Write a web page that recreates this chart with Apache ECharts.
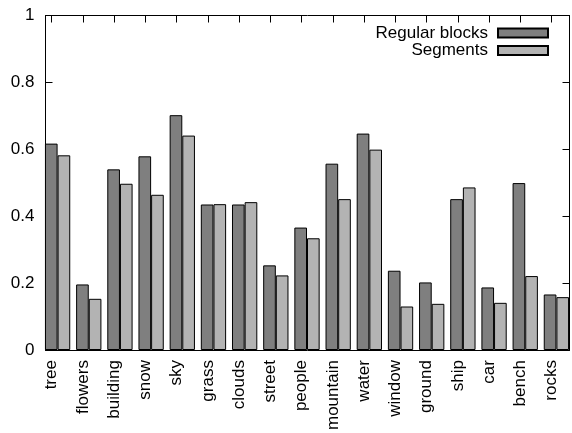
<!DOCTYPE html>
<html><head><meta charset="utf-8">
<script src="https://cdn.jsdelivr.net/npm/echarts@6/dist/echarts.min.js"></script>
<style>html,body{margin:0;padding:0;background:#fff}#c{width:572px;height:433px}</style>
</head><body><div id="c"></div>
<script>
const categories = ['tree','flowers','building','snow','sky','grass','clouds','street','people','mountain','water','window','ground','ship','car','bench','rocks'];
const regularBlocks = [0.617,0.196,0.540,0.579,0.702,0.435,0.435,0.253,0.366,0.557,0.647,0.237,0.202,0.451,0.187,0.499,0.166];
const segments = [0.582,0.153,0.497,0.464,0.641,0.436,0.442,0.223,0.334,0.451,0.599,0.130,0.138,0.486,0.141,0.221,0.158];
const seriesNames = ['Regular blocks','Segments'];

const FONT = 'Liberation Sans, Arial, Helvetica, sans-serif';
const chart = echarts.init(document.getElementById('c'), null, {renderer:'canvas'});
const gTop = 15.5, gH = 334.5;
const tickCommon = {show:true, inside:true, length:7, lineStyle:{color:'#000', width:1}};
const lineOn = {show:true, onZero:false, lineStyle:{color:'#000', width:1}};
chart.setOption({
  animation:false,
  backgroundColor:'#fff',
  textStyle:{fontFamily:FONT},
  grid:[
    {left:42, width:531.25, top:gTop, height:gH},
    {left:45.5, width:524, top:gTop, height:gH},
    {left:51.7, width:500, top:gTop, height:gH}
  ],
  xAxis:[
    {gridIndex:0, type:'category', data:categories, show:false},
    {gridIndex:1, type:'value', min:0, max:1, position:'bottom', axisLine:lineOn, axisTick:{show:false}, axisLabel:{show:false}, splitLine:{show:false}},
    {gridIndex:1, type:'value', min:0, max:1, position:'top', axisLine:lineOn, axisTick:{show:false}, axisLabel:{show:false}, splitLine:{show:false}},
    {gridIndex:2, type:'category', data:categories, boundaryGap:false, position:'bottom',
      axisLine:{show:false, onZero:false}, axisTick:{show:false},
      axisLabel:{rotate:90, interval:0, fontSize:17, margin:11, color:'#000', fontFamily:FONT}},
    {gridIndex:2, type:'category', data:categories, boundaryGap:false, position:'top',
      axisLine:{show:false, onZero:false}, axisTick:Object.assign({interval:0}, tickCommon), axisLabel:{show:false}}
  ],
  yAxis:[
    {gridIndex:0, type:'value', min:0, max:1, show:false},
    {gridIndex:1, type:'value', min:0, max:1, interval:0.2, position:'left',
      axisLine:lineOn, axisTick:tickCommon, splitLine:{show:false},
      axisLabel:{fontSize:17, margin:11, color:'#000', fontFamily:FONT}},
    {gridIndex:1, type:'value', min:0, max:1, interval:0.2, position:'right',
      axisLine:lineOn, axisTick:tickCommon, splitLine:{show:false}, axisLabel:{show:false}},
    {gridIndex:2, type:'value', min:0, max:1, show:false}
  ],
  legend:[
    {data:[seriesNames[0]], right:23, top:24.5, padding:0, itemWidth:50, itemHeight:9, align:'right', selectedMode:false, icon:'rect',
      textStyle:{fontSize:17, color:'#000', fontFamily:FONT, padding:[0,5,0,0]}},
    {data:[seriesNames[1]], right:23, top:42, padding:0, itemWidth:50, itemHeight:9, align:'right', selectedMode:false, icon:'rect',
      textStyle:{fontSize:17, color:'#000', fontFamily:FONT, padding:[0,5,0,0]}}
  ],
  series:[
    {name:seriesNames[0], type:'bar', xAxisIndex:0, yAxisIndex:0, data:regularBlocks, barWidth:12.65, barGap:'0%',
      itemStyle:{color:'#7f7f7f', borderColor:'#000', borderWidth:1}},
    {name:seriesNames[1], type:'bar', xAxisIndex:0, yAxisIndex:0, data:segments, barWidth:12.65, barGap:'0%',
      itemStyle:{color:'#b3b3b3', borderColor:'#000', borderWidth:1}}
  ]
});
</script></body></html>
